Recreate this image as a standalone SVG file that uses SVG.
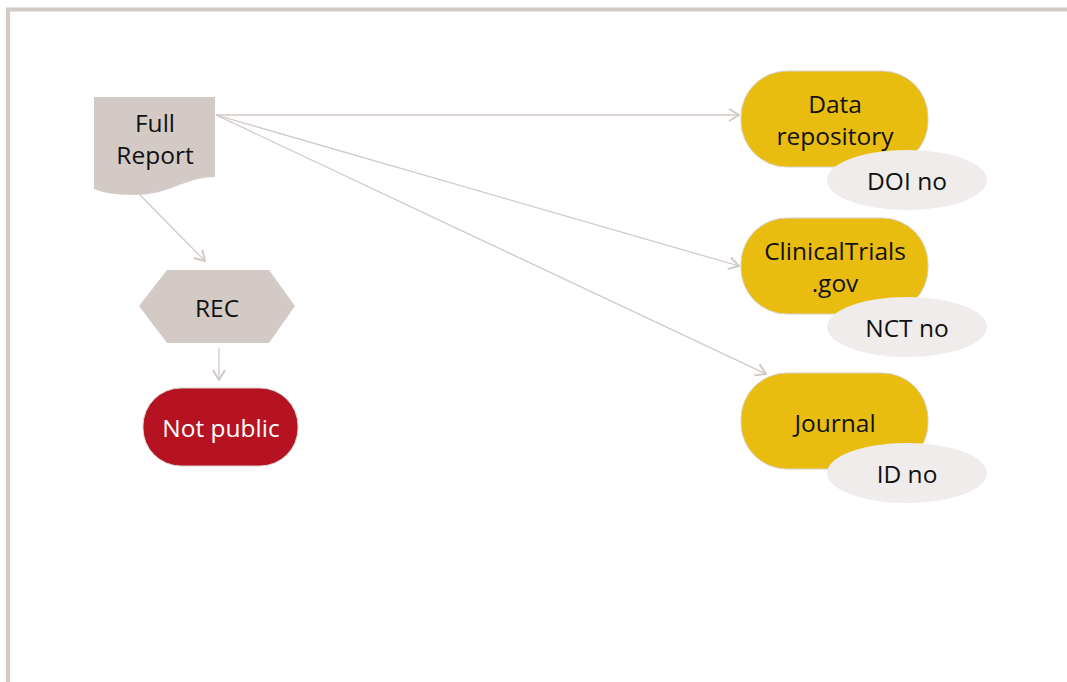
<svg xmlns="http://www.w3.org/2000/svg" width="1067" height="682" viewBox="0 0 1067 682">
<style>
text{font-family:"Open Sans","Liberation Sans",sans-serif;font-size:24.5px;fill:#111;text-anchor:middle}
.conn{stroke:#d2c9c5;stroke-width:1.3;fill:none;marker-end:url(#arr)}
.dest{fill:#e9bd0f;stroke:#d8cfc9;stroke-width:1}
.badge{fill:#efeceb}
</style>
<defs>
<marker id="arr" viewBox="0 0 12 14" refX="11" refY="7" markerWidth="12" markerHeight="14" markerUnits="userSpaceOnUse" orient="auto">
<path d="M1,1 L11,7 L1,13" fill="none" stroke="#d2c9c5" stroke-width="2"/>
</marker>
</defs>
<rect width="1067" height="682" fill="#fff"/>
<path d="M8,682 V9.5 H1067" fill="none" stroke="#d3cac6" stroke-width="4"/>
<g id="connectors">
<line class="conn" x1="216" y1="115" x2="739" y2="115"/>
<line class="conn" x1="216" y1="115" x2="739" y2="266"/>
<line class="conn" x1="216" y1="115" x2="766" y2="374"/>
<line class="conn" x1="140" y1="195" x2="205" y2="261"/>
<line class="conn" x1="219" y1="348" x2="219" y2="380"/>
</g>
<g id="full-report">
<path d="M94,97 H215 V177 C185,177 170,195 135,195 C115,195 100,192 94,189 Z" fill="#d3cac6"/>
<text x="155" y="132">Full</text>
<text x="155" y="164">Report</text>
</g>
<g id="rec">
<polygon points="139,306 167,270 269,270 295,306 269,343 167,343" fill="#d3cac6"/>
<text x="217" y="317">REC</text>
</g>
<g id="not-public">
<rect x="143" y="388" width="155" height="78" rx="38" fill="#b51322" stroke="#d8cfc9" stroke-width="1"/>
<text x="221" y="437" style="fill:#fff">Not public</text>
</g>
<g id="data-repository">
<rect class="dest" x="741" y="71" width="187" height="96" rx="46"/>
<text x="835" y="113">Data</text>
<text x="835" y="145">repository</text>
</g>
<g id="doi-no">
<ellipse class="badge" cx="907" cy="180" rx="80" ry="30"/>
<text x="907" y="190">DOI no</text>
</g>
<g id="clinicaltrials">
<rect class="dest" x="741" y="218" width="187" height="96" rx="46"/>
<text x="835" y="260">ClinicalTrials</text>
<text x="835" y="292">.gov</text>
</g>
<g id="nct-no">
<ellipse class="badge" cx="907" cy="327" rx="80" ry="30"/>
<text x="907" y="337">NCT no</text>
</g>
<g id="journal">
<rect class="dest" x="741" y="373" width="187" height="96" rx="46"/>
<text x="835" y="432">Journal</text>
</g>
<g id="id-no">
<ellipse class="badge" cx="907" cy="473" rx="80" ry="30"/>
<text x="907" y="483">ID no</text>
</g>
</svg>
